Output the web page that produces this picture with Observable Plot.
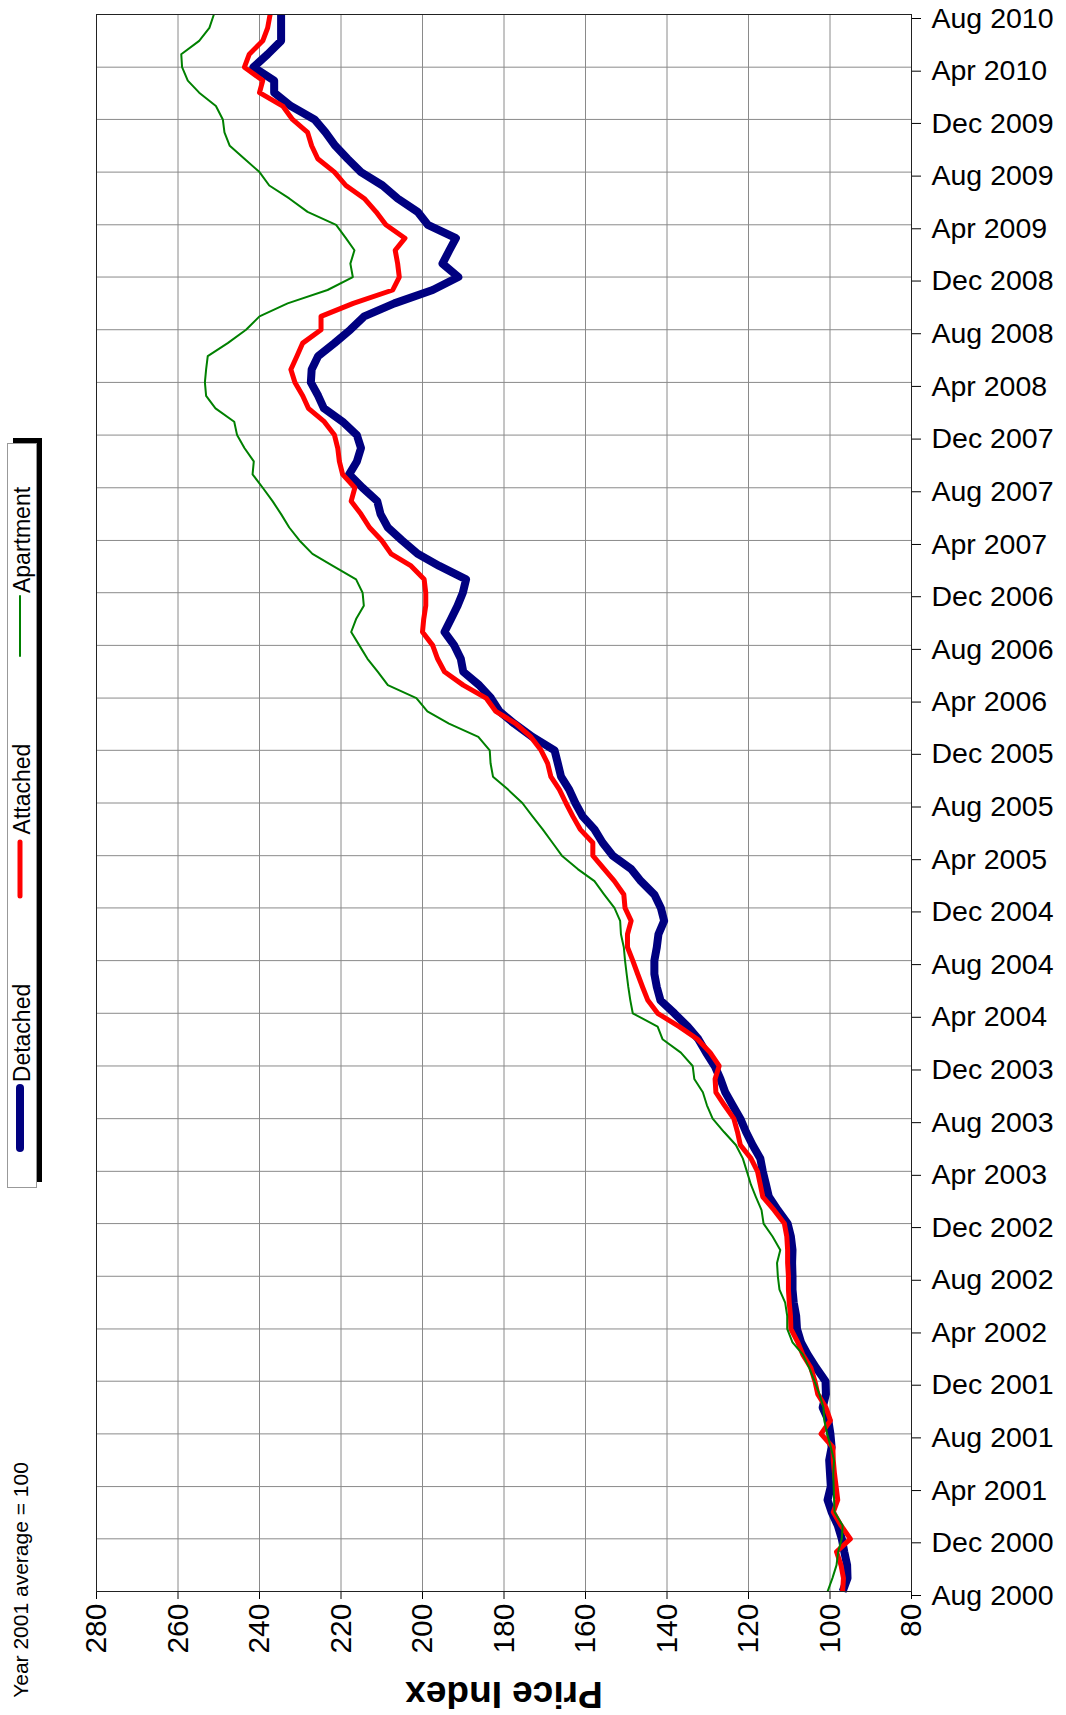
<!DOCTYPE html>
<html><head><meta charset="utf-8">
<script src="https://cdn.jsdelivr.net/npm/d3@7"></script>
<script src="https://cdn.jsdelivr.net/npm/@observablehq/plot@0.6"></script>
<style>body{margin:0;background:#fff;} #chart{width:1066px;height:1715px;}</style>
</head><body><div id="chart"></div>
<script>
// Monthly price index, Aug 2000 .. Aug 2010 (121 values each), Year 2001 average = 100
const detached = [96.9,95.7,95.8,96.5,97.1,98.1,99.6,100.6,99.8,100.0,100.2,99.6,99.9,100.4,101.8,101.0,101.1,103.4,105.5,107.1,
108.1,108.3,108.9,109.2,109.2,109.3,109.2,109.6,110.4,112.8,115.0,115.7,116.5,117.1,119.0,120.6,122.0,123.9,125.7,126.9,
128.3,130.4,132.3,134.9,138.2,141.6,142.5,143.1,143.1,142.5,142.1,140.7,141.5,143.1,146.4,148.8,153.3,155.8,157.8,160.7,
162.5,164.0,166.0,166.8,167.6,173.0,177.5,181.1,183.2,186.1,190.0,190.6,192.2,194.6,193.0,191.4,190.1,189.3,195.9,201.2,
205.0,208.5,210.3,211.1,214.7,218.0,216.1,215.1,216.1,219.6,224.2,225.6,227.4,227.2,225.6,221.6,217.7,214.3,206.9,197.5,
191.2,195.1,193.4,191.8,198.7,201.2,206.1,209.8,215.1,218.4,221.4,223.8,226.5,232.3,236.4,236.4,241.5,238.0,234.7,234.7,234.7];
const attached = [96.9,96.7,97.3,98.4,95.0,97.3,99.2,98.1,98.5,98.9,99.2,99.3,102.2,99.9,101.0,103.0,103.7,104.7,106.7,107.9,
109.6,109.7,110.0,110.2,110.2,110.4,110.4,110.6,111.2,113.7,116.5,117.1,117.8,119.4,122.0,122.7,123.6,125.9,128.0,128.2,
127.2,129.4,132.5,137.0,142.3,144.7,146.0,147.2,148.4,149.7,149.7,148.8,150.3,150.6,152.9,155.4,158.2,158.2,161.3,163.1,
164.8,166.4,168.5,169.3,170.9,173.4,177.1,182.0,184.4,190.0,194.6,196.3,197.5,200.0,199.7,199.2,199.2,199.6,202.8,207.7,
210.0,213.0,215.1,217.5,216.6,219.6,220.4,220.8,221.6,224.1,228.0,229.4,231.3,232.3,230.8,229.4,224.9,224.9,217.0,207.3,
205.7,206.1,206.7,204.3,209.0,211.4,214.3,218.8,221.6,225.7,227.2,228.2,231.9,234.3,240.0,239.2,243.7,242.5,239.2,238.0,237.4];
const apartment = [100.6,99.4,98.4,98.0,97.1,96.9,98.9,99.0,99.1,99.2,99.0,99.8,100.7,101.4,101.6,102.6,103.8,105.1,106.7,109.2,
110.5,110.5,111.0,112.4,112.8,113.0,112.2,114.1,116.3,116.8,118.2,119.4,120.4,121.4,123.1,126.0,128.8,130.2,131.2,133.3,
133.7,136.6,141.1,142.3,148.4,149.0,149.5,149.9,150.3,150.6,151.3,151.5,152.9,155.4,157.8,161.9,165.8,168.1,170.5,173.0,
175.5,179.0,182.7,183.3,183.5,186.3,193.5,198.8,201.5,208.5,211.0,213.5,215.5,217.5,216.3,214.4,214.7,216.3,222.0,227.0,
230.2,232.7,234.7,236.8,239.2,241.7,241.4,243.7,245.5,246.2,250.8,253.1,253.4,253.1,252.7,247.8,243.3,240.0,233.1,223.3,
217.1,217.7,216.7,218.8,221.2,228.2,232.7,237.6,240.0,243.7,247.3,248.6,249.0,250.7,254.8,257.6,259.0,259.2,254.8,252.3,251.2];

const seriesNames = ["Detached", "Attached", "Apartment"];
const seriesColors = ["#000080", "#ff0000", "#008000"];
const tickLabels = ["Aug 2000","Dec 2000","Apr 2001","Aug 2001","Dec 2001","Apr 2002","Aug 2002","Dec 2002",
"Apr 2003","Aug 2003","Dec 2003","Apr 2004","Aug 2004","Dec 2004","Apr 2005","Aug 2005","Dec 2005","Apr 2006",
"Aug 2006","Dec 2006","Apr 2007","Aug 2007","Dec 2007","Apr 2008","Aug 2008","Dec 2008","Apr 2009","Aug 2009",
"Dec 2009","Apr 2010","Aug 2010"];
const priceTicks = [80,100,120,140,160,180,200,220,240,260,280];

const parse = d3.utcParse("%b %Y");
const fmt = d3.utcFormat("%b %Y");
const start = parse(tickLabels[0]);
const end = parse(tickLabels[tickLabels.length - 1]);
const months = d3.utcMonth.range(start, d3.utcMonth.offset(end, 1));
const tickDates = tickLabels.map(parse);

const seriesData = [detached, attached, apartment].map((arr, i) =>
  arr.map((v, j) => ({series: seriesNames[i], date: months[j], value: v})));

const widths = [8, 5, 2];
const font = "'Liberation Sans', Arial, sans-serif";

const plot = Plot.plot({
  width: 1066, height: 1715,
  marginLeft: 96, marginRight: 155, marginTop: 14, marginBottom: 124,
  style: {fontFamily: font, background: "#fff", color: "#000"},
  x: {domain: [280, 80], label: null},
  y: {type: "utc", domain: [start, end], label: null},
  marks: [
    Plot.gridX(priceTicks, {stroke: "#8a8a8a", strokeOpacity: 1}),
    Plot.gridY(tickDates, {stroke: "#8a8a8a", strokeOpacity: 1}),
    Plot.axisX(priceTicks, {anchor: "bottom", tickRotate: -90, fontSize: 30, tickSize: 8, tickPadding: 4, label: null}),
    Plot.axisY(tickDates, {anchor: "right", tickFormat: fmt, fontSize: 28.5, tickSize: 9, tickPadding: 11, dy: 4, label: null}),
    ...seriesData.map((d, i) => Plot.line(d, {
      x: "value", y: "date", stroke: seriesColors[i], strokeWidth: widths[i],
      strokeLinejoin: "round", strokeLinecap: "butt"
    })),
    Plot.frame({stroke: "#222"}),
    Plot.text(["Price Index"], {frameAnchor: "bottom", dy: 90, rotate: 180, fontSize: 37, fontWeight: "bold"})
  ]
});
document.getElementById("chart").appendChild(plot);

// Legend (rotated) and footnote
const svg = d3.select(plot);
const lg = svg.append("g");
lg.append("rect").attr("x", 13).attr("y", 438).attr("width", 29).attr("height", 744).attr("fill", "#000");
lg.append("rect").attr("x", 7.5).attr("y", 443.5).attr("width", 29).attr("height", 744)
  .attr("fill", "#fff").attr("stroke", "#999").attr("stroke-width", 1);
const legendItems = [
  {line: [1088, 1148], text: 1033},
  {line: [842, 896], text: 789},
  {line: [596, 656], text: 540}
];
legendItems.forEach((it, i) => {
  lg.append("line").attr("x1", 20).attr("x2", 20).attr("y1", it.line[0]).attr("y2", it.line[1])
    .attr("stroke", seriesColors[i]).attr("stroke-width", widths[i]).attr("stroke-linecap", "round");
  lg.append("text").attr("transform", `translate(22,${it.text}) rotate(-90)`)
    .attr("text-anchor", "middle").attr("dominant-baseline", "central")
    .attr("font-family", font).attr("font-size", 23).attr("fill", "#000").text(seriesNames[i]);
});
svg.append("text").attr("transform", "translate(20,1580) rotate(-90)")
  .attr("text-anchor", "middle").attr("dominant-baseline", "central")
  .attr("font-family", font).attr("font-size", 21).attr("fill", "#000").text("Year 2001 average = 100");
</script>
</body></html>
